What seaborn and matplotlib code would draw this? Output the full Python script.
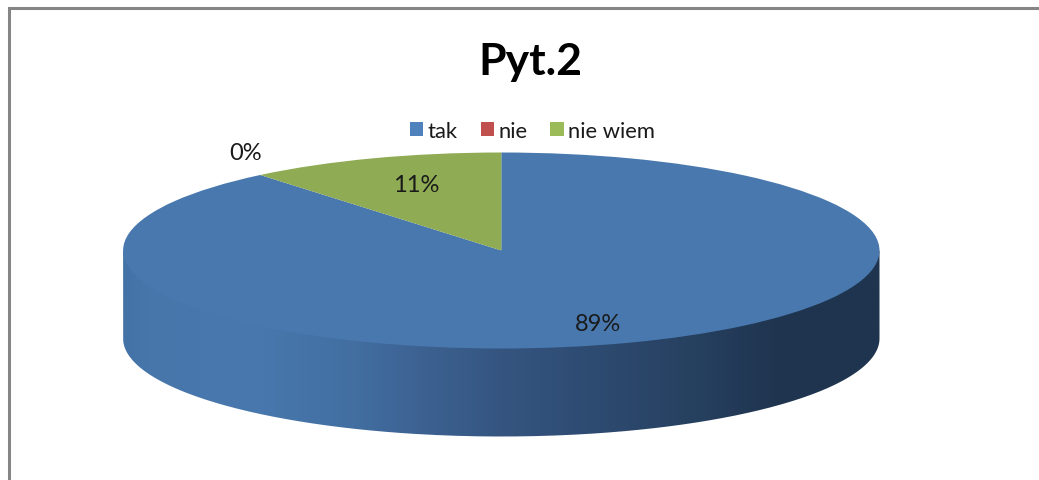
import numpy as np
import seaborn as sns
import matplotlib
matplotlib.use("Agg")
import matplotlib.pyplot as plt
from matplotlib.patches import Patch, PathPatch
from matplotlib.path import Path
from matplotlib.colors import LinearSegmentedColormap
from matplotlib.lines import Line2D

categories = ["tak", "nie", "nie wiem"]
values = [89, 0, 11]
title = "Pyt.2"
legend_colors = ["#4F81BD", "#C0504D", "#9BBB59"]
slice_colors = ["#4878AE", "#B04A47", "#8FAB54"]

W, H = 1039, 481
cx, cy, rx, ry, depth = 501.3, 251.5, 378.2, 98, 88

sns.set_theme(style="white")
plt.rcParams["font.family"] = ["Lato", "DejaVu Sans"]

fig = plt.figure(figsize=(W / 100, H / 100), dpi=100, facecolor="white")
ax = fig.add_axes([0, 0, 1, 1])
ax.pie(values, colors=sns.color_palette(slice_colors), startangle=90, counterclock=False,
       radius=1, center=(0, 0), wedgeprops=dict(linewidth=0))
ax.set_aspect("auto")
xlim = (-cx / rx, (W - cx) / rx)
ylim = ((cy - H) / ry, cy / ry)

# side wall of the disc, running up under the top face so no seam shows
d = depth / ry
t = np.linspace(np.pi, 2 * np.pi, 300)
verts = np.r_[[(-1, 0)], np.c_[np.cos(t), np.sin(t) - d], [(1, 0)], [(-1, 0)]]
wall = PathPatch(Path(verts), transform=ax.transData, fc="none", ec="none")
ax.add_patch(wall)
stops = [(0.0, "#4372A6"), (0.03, "#4776AB"), (0.17, "#4878AE"), (0.29, "#4370A3"),
         (0.37, "#3E6596"), (0.50, "#355580"), (0.63, "#2D4A70"), (0.76, "#26405F"),
         (0.87, "#1F344F"), (1.0, "#1F344F")]
cmap = LinearSegmentedColormap.from_list("wall", stops)
im = ax.imshow(np.linspace(0, 1, 512)[None, :], cmap=cmap, aspect="auto",
               extent=(-1, 1, -1 - d, 1), zorder=0.5, interpolation="bilinear")
im.set_clip_path(wall)
ax.set_xlim(xlim)
ax.set_ylim(ylim)
ax.set_axis_off()

def px(x, y):
    return x / W, 1 - y / H

fig.text(*px(530.5, 62), title, ha="center", va="center", fontsize=32, fontweight="bold", color="black")

label_px = [(598, 324.5), (246, 153.5), (416, 185.5)]
for v, (x, y) in zip(values, label_px):
    fig.text(*px(x, y), f"{v}%", ha="center", va="center", fontsize=17, color="#1a1a1a")

handles = [Patch(fc=c, ec="none") for c in legend_colors]
fig.legend(handles, categories, loc="center", bbox_to_anchor=px(532.5, 132), ncol=3, frameon=False,
           fontsize=15.8, handlelength=0.6, handleheight=0.6, handletextpad=0.2,
           columnspacing=1.05, labelcolor="#1a1a1a", borderpad=0, borderaxespad=0)

border = "#858585"
fig.add_artist(Line2D([px(9, 0)[0], px(9, 0)[0], 1], [0, px(0, 9)[1], px(0, 9)[1]],
                      color=border, lw=2.2, solid_joinstyle="miter"))

fig.savefig("out.png", dpi=100)
